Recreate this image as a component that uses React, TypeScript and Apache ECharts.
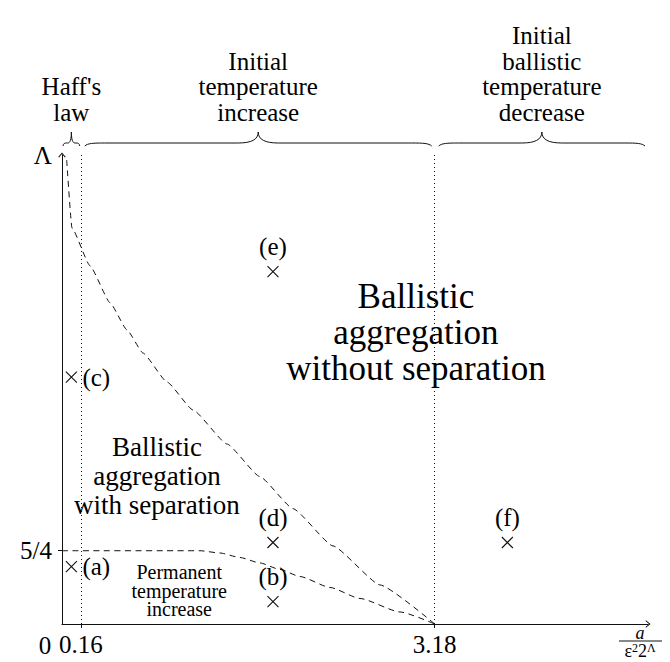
import React, { useEffect, useRef } from "react";
import * as echarts from "echarts";

// ---------- data ----------
const xMin = 0;
const xMax = 5;
const yMin = 0;
const yMax = 8;

const xTickValues = [0.16, 3.18];
const xTickLabels = ["0.16", "3.18"];
const yTickValues = [1.25];
const yLabelValues = [1.25, 8];
const yLabelTexts = ["5/4", "Λ"];

// upper dashed boundary (with / without separation)
const upperX = [0.04, 0.085, 0.239, 0.41, 0.555, 0.691, 0.896, 1.118, 1.408, 1.689, 1.971, 2.312, 2.713, 3.18];
const upperY = [7.915, 6.755, 6.11, 5.479, 5.015, 4.622, 4.128, 3.65, 3.07, 2.513, 1.967, 1.332, 0.667, 0];

// lower dashed boundary (permanent temperature increase)
const lowerX = [0, 1.177, 1.348, 1.519, 1.689, 1.86, 2.031, 2.287, 2.543, 2.884, 3.18];
const lowerY = [1.25, 1.25, 1.211, 1.134, 1.041, 0.93, 0.81, 0.623, 0.435, 0.205, 0];

// marked simulation cases
const pointNames = ["(a)", "(b)", "(c)", "(d)", "(e)", "(f)"];
const pointX = [0.08, 1.8, 0.08, 1.8, 1.8, 3.8];
const pointY = [0.98, 0.38, 4.21, 1.39, 6.01, 1.39];

// regimes along the x axis (bounds) and their titles
const regimeBounds = [0, 0.16, 3.18, 5];
const regimeTitles = [
  "Haff's\nlaw",
  "Initial\ntemperature\nincrease",
  "Initial\nballistic\ntemperature\ndecrease",
];

// region annotations
const regionTexts = [
  "Ballistic\naggregation\nwithout separation",
  "Ballistic\naggregation\nwith separation",
  "Permanent\ntemperature\nincrease",
];
const regionX = [3.02, 0.81, 1.0];
const regionY = [4.98, 2.53, 0.57];

// ---------- styles ----------
const FAMILY = "'Liberation Serif', serif";
const INK = "#111";
const labelSide = ["right", "top", "right", "top", "top", "top"];
const regionFontSize = [35, 27, 20];
const regionLineHeight = [36, 29, 18.5];
const braceInsets = [
  [1, 1],
  [4, 3],
  [4, 3],
];
const ARROW = "path://M0,0 L5,6 L3.8,6.6 L0,2 L-3.8,6.6 L-5,6 Z";

function braceElements(x0: number, x1: number, yEnd: number, yFlat: number, yTip: number, q: number) {
  const xm = (x0 + x1) / 2;
  const st = { stroke: INK, lineWidth: 1, fill: "none" };
  const els: any[] = [];
  els.push({
    type: "bezierCurve",
    shape: { x1: x0, y1: yEnd, cpx1: x0 + q * 0.15, cpy1: yFlat + 0.3, cpx2: x0 + q * 0.4, cpy2: yFlat, x2: x0 + q, y2: yFlat },
    style: st,
    silent: true,
  });
  els.push({
    type: "bezierCurve",
    shape: { x1: x1, y1: yEnd, cpx1: x1 - q * 0.15, cpy1: yFlat + 0.3, cpx2: x1 - q * 0.4, cpy2: yFlat, x2: x1 - q, y2: yFlat },
    style: st,
    silent: true,
  });
  if (xm - q > x0 + q) {
    els.push({ type: "line", shape: { x1: x0 + q, y1: yFlat, x2: xm - q, y2: yFlat }, style: st, silent: true });
    els.push({ type: "line", shape: { x1: xm + q, y1: yFlat, x2: x1 - q, y2: yFlat }, style: st, silent: true });
  }
  els.push({
    type: "bezierCurve",
    shape: { x1: xm - q, y1: yFlat, cpx1: xm - q * 0.35, cpy1: yFlat, cpx2: xm, cpy2: yFlat - (yFlat - yTip) * 0.3, x2: xm, y2: yTip },
    style: st,
    silent: true,
  });
  els.push({
    type: "bezierCurve",
    shape: { x1: xm + q, y1: yFlat, cpx1: xm + q * 0.35, cpy1: yFlat, cpx2: xm, cpy2: yFlat - (yFlat - yTip) * 0.3, x2: xm, y2: yTip },
    style: st,
    silent: true,
  });
  return els;
}

function textEl(x: number, y: number, text: string, fontSize: number, lineHeight: number, va: string, extra: any = {}, italic = false) {
  const font = `${italic ? "italic " : ""}${fontSize}px ${FAMILY}`;
  return {
    type: "text",
    x,
    y,
    silent: true,
    style: {
      text,
      font,
      textFont: font,
      lineHeight,
      fill: "#000",
      align: "center",
      verticalAlign: va,
      ...extra,
    },
  };
}

const pickLabel = (vals: number[], labels: string[], v: number) => {
  const i = vals.findIndex((t) => Math.abs(t - v) < 1e-9);
  return i >= 0 ? labels[i] : "";
};

export default function App() {
  const ref = useRef<HTMLDivElement>(null);

  useEffect(() => {
    const el = ref.current;
    if (!el) return;
    const chart = echarts.init(el, undefined, { renderer: "svg" });

    const axisLineStyle = { color: INK, width: 1 };
    const option: any = {
      animation: false,
      backgroundColor: "#fff",
      textStyle: { fontFamily: FAMILY },
      grid: { left: 62, right: 22, top: 155, bottom: 38, containLabel: false },
      xAxis: {
        type: "value",
        min: xMin,
        max: xMax,
        splitLine: { show: false },
        axisLine: { show: true, symbol: ["none", ARROW], symbolSize: [9, 5], lineStyle: axisLineStyle },
        axisTick: { show: true, customValues: xTickValues, length: 4, lineStyle: axisLineStyle },
        axisLabel: {
          show: true,
          customValues: xTickValues,
          formatter: (v: number) => pickLabel(xTickValues, xTickLabels, v),
          fontFamily: FAMILY,
          fontSize: 25,
          color: "#000",
          margin: 8,
        },
      },
      yAxis: {
        type: "value",
        min: yMin,
        max: yMax,
        splitLine: { show: false },
        axisLine: { show: true, symbol: ["none", ARROW], symbolSize: [9, 5], lineStyle: axisLineStyle },
        axisTick: { show: true, customValues: yTickValues, length: 4, lineStyle: axisLineStyle },
        axisLabel: {
          show: true,
          customValues: yLabelValues,
          formatter: (v: number) => pickLabel(yLabelValues, yLabelTexts, v),
          fontFamily: FAMILY,
          fontSize: 25,
          color: "#000",
          margin: 10,
        },
      },
      series: [
        {
          type: "line",
          data: upperX.map((x, i) => [x, upperY[i]]),
          showSymbol: false,
          smooth: 0.15,
          smoothMonotone: "x",
          lineStyle: { color: INK, width: 1, type: [6, 4.5] },
          silent: true,
          z: 3,
          markLine: {
            silent: true,
            symbol: "none",
            label: { show: false },
            lineStyle: { color: INK, width: 1, type: [1, 3] },
            data: regimeBounds.slice(1, -1).map((v) => ({ xAxis: v })),
          },
        },
        {
          type: "line",
          data: lowerX.map((x, i) => [x, lowerY[i]]),
          showSymbol: false,
          smooth: 0.2,
          smoothMonotone: "x",
          lineStyle: { color: INK, width: 1, type: [6, 4.5] },
          silent: true,
          z: 3,
        },
        {
          type: "scatter",
          symbol: "path://M0,0L10,10M10,0L0,10",
          symbolSize: 11,
          itemStyle: { color: "none", borderColor: INK, borderWidth: 1.1, opacity: 1 },
          data: pointX.map((x, i) => ({
            value: [x, pointY[i]],
            name: pointNames[i],
            label: { position: labelSide[i], distance: labelSide[i] === "right" ? 3 : 5 },
          })),
          label: {
            show: true,
            formatter: "{b}",
            fontFamily: FAMILY,
            fontSize: 25,
            color: "#000",
            opacity: 1,
          },
          z: 4,
        },
      ],
    };
    chart.setOption(option);

    const px = (x: number, y: number) => chart.convertToPixel({ gridIndex: 0 }, [x, y]) as number[];
    const graphics: any[] = [];
    const top = px(0, yMax)[1];

    // braces + regime titles
    for (let i = 0; i < regimeTitles.length; i++) {
      const a = px(regimeBounds[i], 0)[0] + braceInsets[i][0];
      const b = px(regimeBounds[i + 1], 0)[0] - braceInsets[i][1];
      const w = b - a;
      const q = w < 40 ? w / 4.5 : 20;
      graphics.push(...braceElements(a, b, top - 9, top - 12, top - 23, q));
      graphics.push(textEl((a + b) / 2, top - 30, regimeTitles[i], 25, 25.5, "bottom"));
    }

    // region annotations
    for (let i = 0; i < regionTexts.length; i++) {
      const [cx, cy] = px(regionX[i], regionY[i]);
      graphics.push(textEl(cx, cy, regionTexts[i], regionFontSize[i], regionLineHeight[i], "middle"));
    }

    // origin label "0"
    const o = px(0, 0);
    graphics.push(textEl(o[0] - 17, o[1] + 21, "0", 25, 25, "middle"));

    // x axis name: a / (ε² 2^Λ)
    const e = px(xMax, 0);
    const fx = e[0] - 8;
    graphics.push(textEl(fx, e[1] + 9, "a", 18, 18, "middle", {}, true));
    graphics.push({
      type: "line",
      silent: true,
      shape: { x1: fx - 21, y1: e[1] + 17, x2: fx + 22, y2: e[1] + 17 },
      style: { stroke: INK, lineWidth: 1 },
    });
    graphics.push(
      textEl(fx, e[1] + 27, "{b|ε}{s|2}{b|2}{s|Λ}", 18, 18, "middle", {
        rich: {
          b: { font: `18px ${FAMILY}`, fontFamily: FAMILY, fontSize: 18, fill: "#000", verticalAlign: "bottom", lineHeight: 18 },
          s: { font: `12px ${FAMILY}`, fontFamily: FAMILY, fontSize: 12, fill: "#000", verticalAlign: "top", lineHeight: 18 },
        },
      })
    );

    chart.setOption({ graphic: { elements: graphics } });

    return () => {
      chart.dispose();
    };
  }, []);

  return (
    <div
      ref={ref}
      style={{ position: "fixed", left: 0, top: 0, width: 670, height: 662, background: "#fff" }}
    />
  );
}
